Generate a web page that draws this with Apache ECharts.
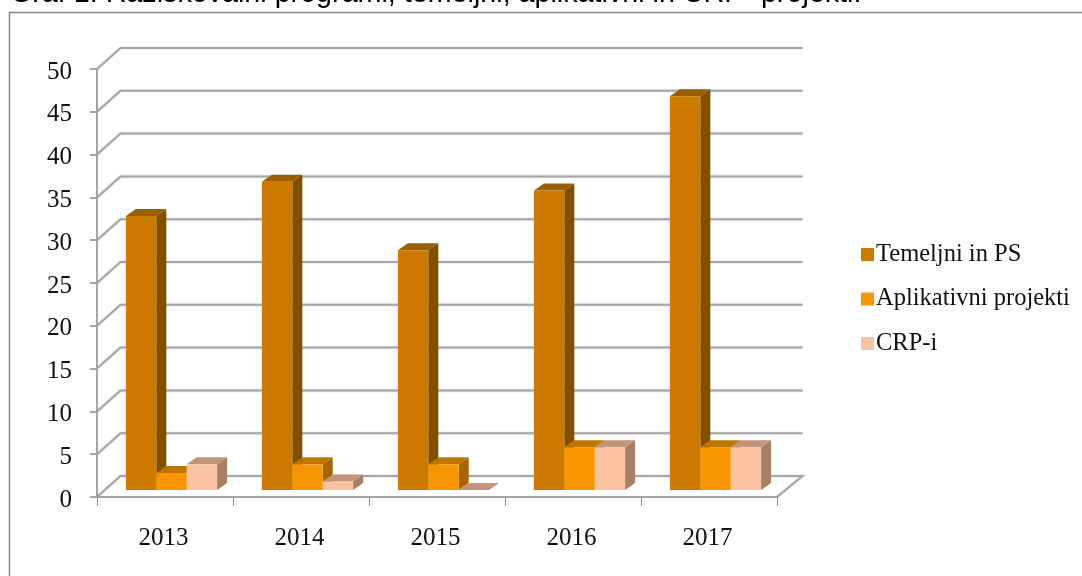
<!DOCTYPE html>
<html>
<head>
<meta charset="utf-8">
<style>
  html, body { margin: 0; padding: 0; background: #fff; }
  #main { width: 1082px; height: 576px; }
</style>
<script src="https://cdn.jsdelivr.net/npm/echarts@6/dist/echarts.min.js"></script>
</head>
<body>
<div id="main"></div>
<script>
const categories = ['2013', '2014', '2015', '2016', '2017'];
const temeljni = [32, 36, 28, 35, 46];
const aplikativni = [2, 3, 3, 5, 5];
const crp = [3, 1, 0, 5, 5];
const gridValues = [0, 5, 10, 15, 20, 25, 30, 35, 40, 45, 50];

const serif = '"Liberation Serif", "Times New Roman", serif';
// depth of the fake 3D box
const wallDx = 23.5, wallDy = -21;
const barShiftX = 6.5, barShiftY = -7;
const barDepthX = 10, barDepthY = -7;
const barShare = 0.2235;

// back wall + left wall gridlines
function renderGrid(params, api) {
  const p = api.coord([0, api.value(0)]);
  const left = params.coordSys.x;
  const right = left + params.coordSys.width;
  const y = p[1];
  const lineStyle = { stroke: '#a6a6a6', lineWidth: 2, fill: 'none',
    shadowColor: 'rgba(0,0,0,0.2)', shadowBlur: 2 };
  const points = [[left, y], [left + wallDx, y + wallDy], [right + wallDx + 2, y + wallDy]];
  if (api.value(0) === 0) points.push([right, y]);
  return { type: 'polyline', shape: { points: points }, style: lineStyle, silent: true };
}

function makeBarRenderer(index, sideColor, topColor) {
  return function (params, api) {
    const cat = api.value(0);
    const top = api.coord([cat, api.value(1)]);
    const base = api.coord([cat, 0]);
    const w = api.size([1, 0])[0] * barShare;
    const x0 = top[0] + barShiftX + (index - 1.5) * w;
    const x1 = x0 + w;
    const yt = top[1] + barShiftY;
    const yb = base[1] + barShiftY;
    return {
      type: 'group',
      children: [
        { type: 'polygon',
          shape: { points: [[x1, yb], [x1 + barDepthX, yb + barDepthY], [x1 + barDepthX, yt + barDepthY], [x1, yt]] },
          style: { fill: sideColor } },
        { type: 'polygon',
          shape: { points: [[x0, yt], [x0 + barDepthX, yt + barDepthY], [x1 + barDepthX, yt + barDepthY], [x1, yt]] },
          style: { fill: topColor } },
        { type: 'rect',
          shape: { x: x0, y: yt, width: w, height: yb - yt },
          style: { fill: api.visual('color') } }
      ]
    };
  };
}

function barSeries(name, values, index, color, sideColor, topColor) {
  return {
    name: name,
    type: 'custom',
    renderItem: makeBarRenderer(index, sideColor, topColor),
    itemStyle: { color: color },
    encode: { x: 0, y: 1 },
    clip: false,
    z: 3 + index,
    data: values.map(function (v, i) { return [i, v]; })
  };
}

const myChart = echarts.init(document.getElementById('main'), null, { renderer: 'canvas' });

myChart.setOption({
  animation: false,
  backgroundColor: '#fff',
  title: {
    text: 'Graf 1: Raziskovalni programi, temeljni, aplikativni in CRP- projekti.',
    left: 5,
    top: -25,
    textStyle: { fontFamily: '"Liberation Sans", Arial, sans-serif', fontSize: 28.7, fontWeight: 'normal', color: '#000' }
  },
  graphic: [
    { type: 'polyline', silent: true, z: 10,
      shape: { points: [[9.5, 576], [9.5, 12.5], [1082, 12.5]] },
      style: { stroke: '#868686', lineWidth: 1.5, fill: 'none' } }
  ],
  legend: {
    orient: 'vertical',
    left: 856,
    top: 237,
    icon: 'rect',
    itemWidth: 13,
    itemHeight: 13,
    itemGap: 19.5,
    data: ['Temeljni in PS', 'Aplikativni projekti', 'CRP-i'],
    textStyle: { fontFamily: serif, fontSize: 24.5, color: '#111', padding: [0, 0, 0, -3] }
  },
  grid: { left: 97, right: 305, top: 69, bottom: 79, containLabel: false },
  xAxis: {
    type: 'category',
    data: categories,
    boundaryGap: true,
    axisLine: { lineStyle: { color: '#a6a6a6', width: 2 } },
    axisTick: { show: true, alignWithLabel: false, length: 9, lineStyle: { color: '#8c8c8c', width: 1 } },
    axisLabel: { margin: 29, fontFamily: serif, fontSize: 25, color: '#111', padding: [0, 3, 0, 0] },
    splitLine: { show: false }
  },
  yAxis: {
    type: 'value',
    min: 0,
    max: 50,
    interval: 5,
    axisLine: { show: true, lineStyle: { color: '#a6a6a6', width: 2 } },
    axisTick: { show: true, length: 7, lineStyle: { color: '#a6a6a6', width: 2 } },
    // labels sit a little below their ticks in the original
    axisLabel: { margin: 25, fontFamily: serif, fontSize: 25, color: '#111', verticalAlign: 'top', lineHeight: 6 },
    splitLine: { show: false }
  },
  series: [
    {
      type: 'custom',
      renderItem: renderGrid,
      encode: { y: 0 },
      clip: false,
      silent: true,
      z: 1,
      data: gridValues.map(function (v) { return [v]; })
    },
    barSeries('Temeljni in PS', temeljni, 0, '#CC7A00', '#824E00', '#9A5F00'),
    barSeries('Aplikativni projekti', aplikativni, 1, '#F79600', '#A56500', '#BE7600'),
    barSeries('CRP-i', crp, 2, '#FAC2A0', '#A67F66', '#C39478')
  ]
});
</script>
</body>
</html>
